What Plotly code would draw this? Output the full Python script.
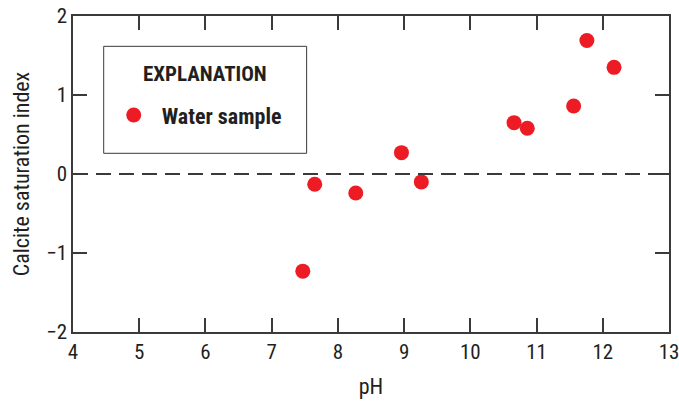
import plotly.graph_objects as go

ph = [7.47, 7.65, 8.27, 8.96, 9.26, 10.66, 10.86, 11.56, 11.76, 12.17]
csi = [-1.23, -0.13, -0.24, 0.27, -0.10, 0.65, 0.58, 0.86, 1.69, 1.35]
x_ticks = [4, 5, 6, 7, 8, 9, 10, 11, 12, 13]
y_ticks = [-2, -1, 0, 1, 2]
y_tick_labels = ["\u22122", "\u22121", "0", "1", "2"]

FONT = "Liberation Sans Narrow, Roboto Condensed, Arial Narrow, sans-serif"
AX = "#3a3a3a"
RED = "#ED1C24"
TXT = "#231f20"

fig = go.Figure()
fig.add_trace(go.Scatter(
    x=ph, y=csi, mode="markers", name="<b>Water sample</b>",
    marker=dict(color=RED, size=15, line=dict(width=0)),
))

axis_common = dict(
    showgrid=False, zeroline=False, showline=True, linecolor=AX, linewidth=1.5,
    mirror="ticks", ticks="inside", ticklen=14, tickwidth=1.5, tickcolor=AX,
    tickfont=dict(family=FONT, size=21, color=TXT), automargin=False,
    ticklabeloverflow="allow",
)

fig.update_layout(
    width=679, height=404,
    margin=dict(l=73, r=10, t=16, b=72),
    paper_bgcolor="white", plot_bgcolor="white",
    font=dict(family=FONT, color=TXT),
    xaxis=dict(range=[4, 13], tickvals=x_ticks, **axis_common,
               title=dict(text="pH", font=dict(family=FONT, size=22), standoff=16)),
    yaxis=dict(range=[-2, 2], tickvals=y_ticks, ticktext=y_tick_labels, **axis_common,
               title=dict(text="Calcite saturation index", font=dict(family=FONT, size=22), standoff=10)),
    showlegend=True,
    legend=dict(x=0.0549, y=0.686, xanchor="left", yanchor="middle",
                bgcolor="rgba(0,0,0,0)", borderwidth=0,
                font=dict(family=FONT, size=22, color=TXT),
                itemwidth=46),
    shapes=[
        dict(type="line", xref="x", yref="y", x0=4, x1=13, y0=0, y1=0,
             line=dict(color=AX, width=1.8, dash="15px,8px")),
        dict(type="rect", xref="paper", yref="paper", x0=0.0515, x1=0.392,
             y0=0.5655, y1=0.904, line=dict(color=AX, width=1), fillcolor="rgba(0,0,0,0)"),
    ],
    annotations=[
        dict(text="<b>EXPLANATION</b>", xref="paper", yref="paper", x=0.221, y=0.8155,
             xanchor="center", yanchor="middle", showarrow=False,
             font=dict(family=FONT, size=21, color=TXT)),
    ],
)

fig.write_html("out.html", config={"displayModeBar": False},
               post_script="document.body.style.margin='0';document.body.style.overflow='hidden';")
